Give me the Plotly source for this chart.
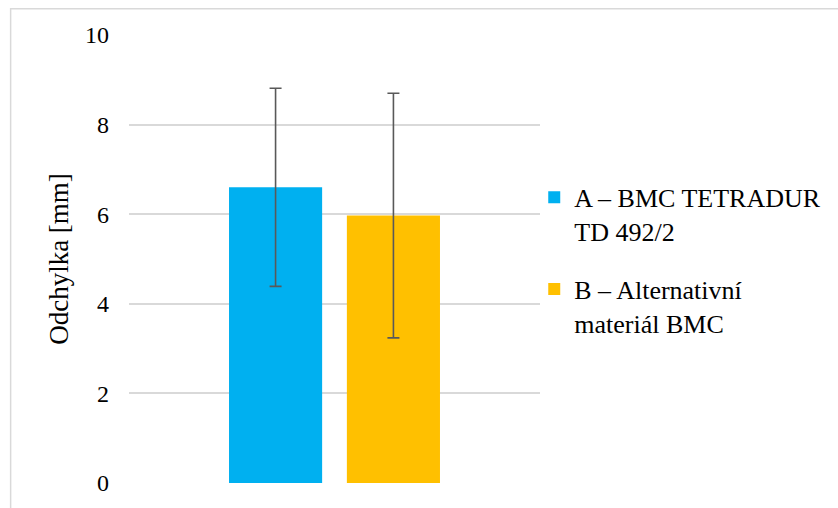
"""Bar chart with error bars: Odchylka [mm] for two BMC materials."""

import plotly.graph_objects as go

# data
series_names = ["A – BMC TETRADUR<br>TD 492/2", "B – Alternativní<br>materiál BMC"]
series_values = [6.60, 5.97]
series_errors = [2.21, 2.73]
series_colors = ["#00B0F0", "#FFC000"]
y_ticks = [0, 2, 4, 6, 8, 10]

FONT = "Times New Roman"

fig = go.Figure()
for i, (name, val, err, col) in enumerate(zip(series_names, series_values, series_errors, series_colors)):
    fig.add_trace(go.Bar(
        x=[""], y=[val], name=name,
        marker=dict(color=col, line=dict(width=0)),
        error_y=dict(type="data", array=[err], color="#595959", thickness=1.6, width=6),
        legendgroup=f"g{i}",
    ))

fig.update_layout(
    width=838, height=508,
    margin=dict(l=129, r=294, t=35, b=21),
    paper_bgcolor="white", plot_bgcolor="white",
    font=dict(family=FONT, color="#000000", size=24),
    barmode="group", bargap=0.4265, bargroupgap=0.21,
    showlegend=True,
    legend=dict(
        x=0.986, xanchor="left", y=0.69, yanchor="top",
        font=dict(family=FONT, size=26, color="#000000"),
        valign="top", tracegroupgap=21,
        bgcolor="rgba(0,0,0,0)",
    ),
)
fig.update_xaxes(showticklabels=False, showgrid=False, zeroline=False, showline=False)
fig.update_yaxes(
    range=[0, 10], tickvals=y_ticks, showgrid=True, gridcolor="#d9d9d9", gridwidth=1.5,
    zeroline=False, showline=False, tickfont=dict(family=FONT, size=24, color="#000000"),
    ticklabelstandoff=19, ticklabeloverflow="allow",
    title=dict(text="Odchylka [mm]", font=dict(family=FONT, size=27, color="#000000"), standoff=8),
)

# outer chart frame (extends past the right and bottom edge of the picture)
fig.add_shape(type="rect", xref="paper", yref="paper",
              x0=-0.288, x1=1.8, y0=-0.1, y1=1.0586,
              line=dict(color="#d9d9d9", width=1.5), layer="below")

# drop the default 8px body margin so the figure sits at the window corner
fig.write_html("out.html", config={"displayModeBar": False},
               post_script="document.body.style.margin='0';")
